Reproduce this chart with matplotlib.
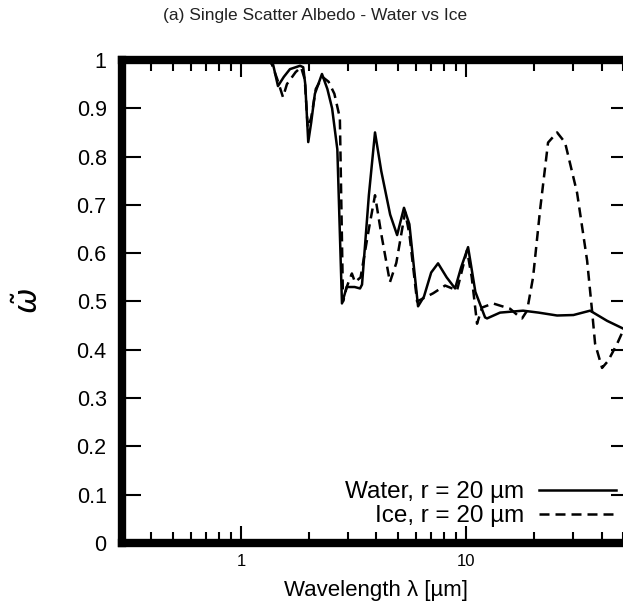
import matplotlib
matplotlib.use("Agg")
import matplotlib.pyplot as plt
from matplotlib.ticker import LogLocator, FixedLocator, FixedFormatter, NullFormatter

plt.rcParams['font.family'] = ['Liberation Sans', 'DejaVu Sans']
plt.rcParams['mathtext.fontset'] = 'dejavusans'

# ---- data ----
water_wl = [0.3, 1.30, 1.39, 1.46, 1.55, 1.65, 1.83, 1.89, 1.93, 1.99, 2.05, 2.13, 2.29, 2.42,
            2.54, 2.68, 2.81, 2.95, 3.2, 3.38, 3.45, 3.7, 3.94, 4.2, 4.6, 4.94, 5.30, 5.6, 6.12,
            6.5, 7.0, 7.51, 8.2, 8.94, 9.5, 10.21, 11.0, 12.15, 12.40, 14.16, 17.92, 21.0,
            25.38, 30.0, 35.57, 42.33, 49.87, 54.0]
water_w = [1.0, 1.0, 0.99, 0.946, 0.965, 0.981, 0.988, 0.985, 0.95, 0.83, 0.87, 0.93, 0.971, 0.94,
           0.90, 0.815, 0.496, 0.53, 0.53, 0.527, 0.535, 0.72, 0.85, 0.77, 0.68, 0.6375, 0.694, 0.66,
           0.49, 0.51, 0.56, 0.579, 0.55, 0.527, 0.57, 0.6125, 0.52, 0.467, 0.465, 0.477, 0.481,
           0.477, 0.471, 0.472, 0.481, 0.46, 0.444, 0.435]

ice_wl = [0.3, 1.35, 1.45, 1.537, 1.6, 1.75, 1.85, 1.92, 1.98, 2.05, 2.15, 2.3, 2.45, 2.6, 2.75,
          2.84, 2.95, 3.11, 3.21, 3.4, 3.7, 3.94, 4.2, 4.59, 4.9, 5.36, 5.6, 6.06, 7.14, 8.07,
          9.12, 10.10, 10.6, 11.19, 11.78, 13.18, 15.69, 17.38, 17.74, 18.67, 19.85, 21.33,
          23.14, 25.38, 27.54, 31.14, 34.50, 36.31, 37.44, 40.21, 42.76, 46.91, 49.87, 54.0]
ice_w = [1.0, 1.0, 0.96, 0.923, 0.95, 0.975, 0.985, 0.96, 0.86, 0.88, 0.94, 0.965, 0.955, 0.93, 0.88,
         0.50, 0.53, 0.558, 0.54, 0.55, 0.65, 0.72, 0.64, 0.54, 0.58, 0.685, 0.64, 0.50, 0.517, 0.533,
         0.523, 0.606, 0.55, 0.454, 0.4875, 0.496, 0.485, 0.467, 0.465, 0.481, 0.55, 0.69,
         0.829, 0.85, 0.829, 0.725, 0.585, 0.48, 0.4125, 0.3625, 0.377, 0.4125, 0.44, 0.46]

labels = ["Water, r = 20 µm", "Ice, r = 20 µm"]
yticks = [0, 0.1, 0.2, 0.3, 0.4, 0.5, 0.6, 0.7, 0.8, 0.9, 1]
ytick_labels = ["0", "0.1", "0.2", "0.3", "0.4", "0.5", "0.6", "0.7", "0.8", "0.9", "1"]
xticks = [1, 10]
xtick_labels = ["1", "10"]

fig = plt.figure(figsize=(6.23, 6.07), dpi=100)
ax = fig.add_axes([0.1958, 0.1054, 0.8154, 0.7958])

lw = 1.8
l1, = ax.plot(water_wl, water_w, color='black', lw=lw, solid_joinstyle='round')
l2, = ax.plot(ice_wl, ice_w, color='black', lw=lw, linestyle=(0, (4.0, 2.4)))

ax.set_xscale('log')
ax.set_xlim(0.296, 53.5)
ax.set_ylim(0, 1)

for s in ax.spines.values():
    s.set_linewidth(6)

ax.xaxis.set_major_locator(FixedLocator(xticks))
ax.xaxis.set_major_formatter(FixedFormatter(xtick_labels))
ax.xaxis.set_minor_locator(LogLocator(base=10, subs=(2, 3, 4, 5, 6, 7, 8, 9), numticks=20))
ax.xaxis.set_minor_formatter(NullFormatter())
ax.set_yticks(yticks)
ax.set_yticklabels(ytick_labels)

ax.tick_params(axis='x', which='major', direction='in', top=True, bottom=True,
               length=12, width=1.5, labelsize=12, pad=8)
ax.tick_params(axis='x', which='minor', direction='in', top=True, bottom=True,
               length=8, width=1.5)
ax.tick_params(axis='y', which='major', direction='in', left=True, right=True,
               length=14, width=1.5, labelsize=15.5, pad=11)

ax.set_xlabel("Wavelength λ [µm]", fontsize=16, labelpad=8)
fig.text(0.048, 0.505, r"$\tilde{\omega}$", rotation=90, fontsize=22, ha='center', va='center')

fig.text(0.506, 0.975, "(a) Single Scatter Albedo - Water vs Ice", fontsize=12.5,
         ha='center', va='center', color='#222222')

fig.legend([l1, l2], labels, loc='lower right', bbox_to_anchor=(1.005, 0.115),
           bbox_transform=fig.transFigure, markerfirst=False, frameon=False,
           handlelength=3.2, fontsize=17.5, labelspacing=0.1, handletextpad=0.6,
           borderaxespad=0.0)

fig.savefig("out.png", dpi=100)
